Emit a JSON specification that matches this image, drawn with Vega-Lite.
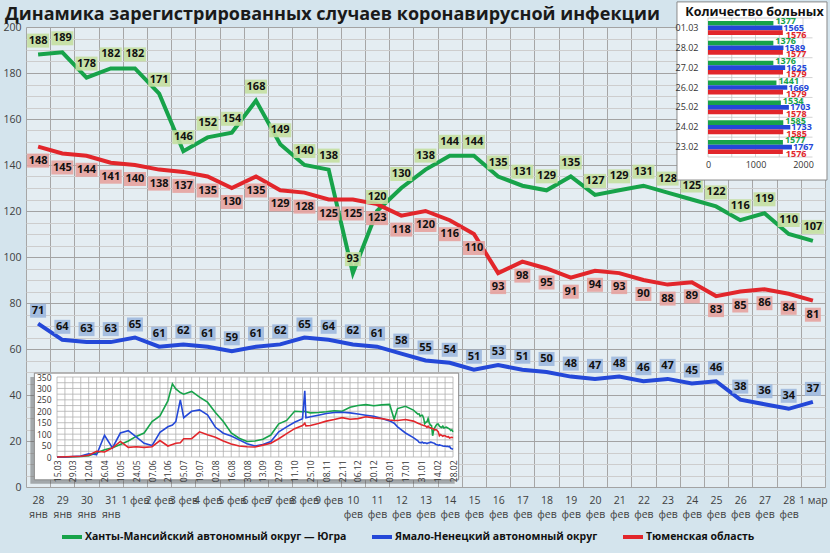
{
  "$schema": "https://vega.github.io/schema/vega-lite/v6.json",
  "width": 799,
  "height": 460,
  "autosize": {"type": "none"},
  "padding": {"left": 26, "top": 27, "right": 5, "bottom": 66},
  "background": "#d4e4ed",
  "title": {
    "text": "Динамика зарегистрированных случаев коронавирусной инфекции",
    "anchor": "start",
    "frame": "group",
    "dx": -21,
    "dy": 29,
    "offset": 6,
    "fontSize": 18,
    "fontWeight": "bold",
    "color": "#1a1a1a"
  },
  "datasets": {
    "main": [
      {"d": "28|янв", "hm": 188, "yn": 71, "tm": 148},
      {"d": "29|янв", "hm": 189, "yn": 64, "tm": 145},
      {"d": "30|янв", "hm": 178, "yn": 63, "tm": 144},
      {"d": "31|янв", "hm": 182, "yn": 63, "tm": 141},
      {"d": "1 фев", "hm": 182, "yn": 65, "tm": 140},
      {"d": "2 фев", "hm": 171, "yn": 61, "tm": 138},
      {"d": "3 фев", "hm": 146, "yn": 62, "tm": 137},
      {"d": "4 фев", "hm": 152, "yn": 61, "tm": 135},
      {"d": "5 фев", "hm": 154, "yn": 59, "tm": 130},
      {"d": "6 фев", "hm": 168, "yn": 61, "tm": 135},
      {"d": "7 фев", "hm": 149, "yn": 62, "tm": 129},
      {"d": "8 фев", "hm": 140, "yn": 65, "tm": 128},
      {"d": "9 фев", "hm": 138, "yn": 64, "tm": 125},
      {"d": "10|фев", "hm": 93, "yn": 62, "tm": 125},
      {"d": "11|фев", "hm": 120, "yn": 61, "tm": 123},
      {"d": "12|фев", "hm": 130, "yn": 58, "tm": 118},
      {"d": "13|фев", "hm": 138, "yn": 55, "tm": 120},
      {"d": "14|фев", "hm": 144, "yn": 54, "tm": 116},
      {"d": "15|фев", "hm": 144, "yn": 51, "tm": 110},
      {"d": "16|фев", "hm": 135, "yn": 53, "tm": 93},
      {"d": "17|фев", "hm": 131, "yn": 51, "tm": 98},
      {"d": "18|фев", "hm": 129, "yn": 50, "tm": 95},
      {"d": "19|фев", "hm": 135, "yn": 48, "tm": 91},
      {"d": "20|фев", "hm": 127, "yn": 47, "tm": 94},
      {"d": "21|фев", "hm": 129, "yn": 48, "tm": 93},
      {"d": "22|фев", "hm": 131, "yn": 46, "tm": 90},
      {"d": "23|фев", "hm": 128, "yn": 47, "tm": 88},
      {"d": "24|фев", "hm": 125, "yn": 45, "tm": 89},
      {"d": "25|фев", "hm": 122, "yn": 46, "tm": 83},
      {"d": "26|фев", "hm": 116, "yn": 38, "tm": 85},
      {"d": "27|фев", "hm": 119, "yn": 36, "tm": 86},
      {"d": "28|фев", "hm": 110, "yn": 34, "tm": 84},
      {"d": "1 мар", "hm": 107, "yn": 37, "tm": 81}
    ],
    "ins": [
      {"t": "2020-03-15", "hm": 0, "yn": 0, "tm": 0},
      {"t": "2020-03-22", "hm": 0, "yn": 0, "tm": 1},
      {"t": "2020-03-29", "hm": 1, "yn": 2, "tm": 2},
      {"t": "2020-04-05", "hm": 2, "yn": 4, "tm": 3},
      {"t": "2020-04-12", "hm": 6, "yn": 14, "tm": 8},
      {"t": "2020-04-19", "hm": 18, "yn": 10, "tm": 25},
      {"t": "2020-04-26", "hm": 32, "yn": 95, "tm": 22},
      {"t": "2020-05-03", "hm": 40, "yn": 40, "tm": 40},
      {"t": "2020-05-10", "hm": 55, "yn": 105, "tm": 68},
      {"t": "2020-05-17", "hm": 70, "yn": 115, "tm": 42},
      {"t": "2020-05-24", "hm": 90, "yn": 88, "tm": 45},
      {"t": "2020-05-31", "hm": 105, "yn": 60, "tm": 42},
      {"t": "2020-06-07", "hm": 155, "yn": 50, "tm": 45},
      {"t": "2020-06-14", "hm": 180, "yn": 108, "tm": 72},
      {"t": "2020-06-21", "hm": 245, "yn": 132, "tm": 48},
      {"t": "2020-06-25", "hm": 320, "yn": 140, "tm": 55},
      {"t": "2020-06-28", "hm": 298, "yn": 155, "tm": 60},
      {"t": "2020-07-02", "hm": 282, "yn": 250, "tm": 62},
      {"t": "2020-07-05", "hm": 275, "yn": 172, "tm": 80},
      {"t": "2020-07-12", "hm": 287, "yn": 200, "tm": 80},
      {"t": "2020-07-19", "hm": 262, "yn": 206, "tm": 110},
      {"t": "2020-07-26", "hm": 240, "yn": 185, "tm": 97},
      {"t": "2020-08-02", "hm": 195, "yn": 130, "tm": 86},
      {"t": "2020-08-09", "hm": 155, "yn": 104, "tm": 70},
      {"t": "2020-08-16", "hm": 105, "yn": 92, "tm": 57},
      {"t": "2020-08-23", "hm": 82, "yn": 75, "tm": 48},
      {"t": "2020-08-30", "hm": 68, "yn": 58, "tm": 45},
      {"t": "2020-09-06", "hm": 70, "yn": 48, "tm": 44},
      {"t": "2020-09-13", "hm": 78, "yn": 55, "tm": 52},
      {"t": "2020-09-20", "hm": 96, "yn": 68, "tm": 60},
      {"t": "2020-09-27", "hm": 145, "yn": 110, "tm": 80},
      {"t": "2020-10-04", "hm": 160, "yn": 132, "tm": 102},
      {"t": "2020-10-11", "hm": 200, "yn": 152, "tm": 124},
      {"t": "2020-10-18", "hm": 198, "yn": 167, "tm": 138},
      {"t": "2020-10-20", "hm": 200, "yn": 290, "tm": 148},
      {"t": "2020-10-21", "hm": 198, "yn": 172, "tm": 136},
      {"t": "2020-10-25", "hm": 193, "yn": 176, "tm": 138},
      {"t": "2020-11-01", "hm": 195, "yn": 183, "tm": 147},
      {"t": "2020-11-08", "hm": 198, "yn": 190, "tm": 157},
      {"t": "2020-11-15", "hm": 202, "yn": 195, "tm": 164},
      {"t": "2020-11-22", "hm": 200, "yn": 196, "tm": 172},
      {"t": "2020-11-29", "hm": 218, "yn": 193, "tm": 165},
      {"t": "2020-12-06", "hm": 225, "yn": 188, "tm": 168},
      {"t": "2020-12-13", "hm": 229, "yn": 183, "tm": 176},
      {"t": "2020-12-20", "hm": 224, "yn": 178, "tm": 171},
      {"t": "2020-12-27", "hm": 228, "yn": 168, "tm": 168},
      {"t": "2021-01-03", "hm": 230, "yn": 158, "tm": 162},
      {"t": "2021-01-07", "hm": 165, "yn": 148, "tm": 160},
      {"t": "2021-01-10", "hm": 212, "yn": 132, "tm": 160},
      {"t": "2021-01-17", "hm": 222, "yn": 105, "tm": 164},
      {"t": "2021-01-24", "hm": 205, "yn": 85, "tm": 157},
      {"t": "2021-01-28", "hm": 188, "yn": 71, "tm": 148},
      {"t": "2021-01-29", "hm": 189, "yn": 64, "tm": 145},
      {"t": "2021-01-30", "hm": 178, "yn": 63, "tm": 144},
      {"t": "2021-01-31", "hm": 182, "yn": 63, "tm": 141},
      {"t": "2021-02-01", "hm": 182, "yn": 65, "tm": 140},
      {"t": "2021-02-02", "hm": 171, "yn": 61, "tm": 138},
      {"t": "2021-02-03", "hm": 146, "yn": 62, "tm": 137},
      {"t": "2021-02-04", "hm": 152, "yn": 61, "tm": 135},
      {"t": "2021-02-05", "hm": 154, "yn": 59, "tm": 130},
      {"t": "2021-02-06", "hm": 168, "yn": 61, "tm": 135},
      {"t": "2021-02-07", "hm": 149, "yn": 62, "tm": 129},
      {"t": "2021-02-08", "hm": 140, "yn": 65, "tm": 128},
      {"t": "2021-02-09", "hm": 138, "yn": 64, "tm": 125},
      {"t": "2021-02-10", "hm": 93, "yn": 62, "tm": 125},
      {"t": "2021-02-11", "hm": 120, "yn": 61, "tm": 123},
      {"t": "2021-02-12", "hm": 130, "yn": 58, "tm": 118},
      {"t": "2021-02-13", "hm": 138, "yn": 55, "tm": 120},
      {"t": "2021-02-14", "hm": 144, "yn": 54, "tm": 116},
      {"t": "2021-02-15", "hm": 144, "yn": 51, "tm": 110},
      {"t": "2021-02-16", "hm": 135, "yn": 53, "tm": 93},
      {"t": "2021-02-17", "hm": 131, "yn": 51, "tm": 98},
      {"t": "2021-02-18", "hm": 129, "yn": 50, "tm": 95},
      {"t": "2021-02-19", "hm": 135, "yn": 48, "tm": 91},
      {"t": "2021-02-20", "hm": 127, "yn": 47, "tm": 94},
      {"t": "2021-02-21", "hm": 129, "yn": 48, "tm": 93},
      {"t": "2021-02-22", "hm": 131, "yn": 46, "tm": 90},
      {"t": "2021-02-23", "hm": 128, "yn": 47, "tm": 88},
      {"t": "2021-02-24", "hm": 125, "yn": 45, "tm": 89},
      {"t": "2021-02-25", "hm": 122, "yn": 46, "tm": 83},
      {"t": "2021-02-26", "hm": 116, "yn": 38, "tm": 85},
      {"t": "2021-02-27", "hm": 119, "yn": 36, "tm": 86},
      {"t": "2021-02-28", "hm": 110, "yn": 34, "tm": 84}
    ],
    "gridT": [
      {"t": "2020-03-15"}, {"t": "2020-03-22"}, {"t": "2020-03-29"}, {"t": "2020-04-05"},
      {"t": "2020-04-12"}, {"t": "2020-04-19"}, {"t": "2020-04-26"}, {"t": "2020-05-03"},
      {"t": "2020-05-10"}, {"t": "2020-05-17"}, {"t": "2020-05-24"}, {"t": "2020-05-31"},
      {"t": "2020-06-07"}, {"t": "2020-06-14"}, {"t": "2020-06-21"}, {"t": "2020-06-28"},
      {"t": "2020-07-05"}, {"t": "2020-07-12"}, {"t": "2020-07-19"}, {"t": "2020-07-26"},
      {"t": "2020-08-02"}, {"t": "2020-08-09"}, {"t": "2020-08-16"}, {"t": "2020-08-23"},
      {"t": "2020-08-30"}, {"t": "2020-09-06"}, {"t": "2020-09-13"}, {"t": "2020-09-20"},
      {"t": "2020-09-27"}, {"t": "2020-10-04"}, {"t": "2020-10-11"}, {"t": "2020-10-18"},
      {"t": "2020-10-25"}, {"t": "2020-11-01"}, {"t": "2020-11-08"}, {"t": "2020-11-15"},
      {"t": "2020-11-22"}, {"t": "2020-11-29"}, {"t": "2020-12-06"}, {"t": "2020-12-13"},
      {"t": "2020-12-20"}, {"t": "2020-12-27"}, {"t": "2021-01-03"}, {"t": "2021-01-10"},
      {"t": "2021-01-17"}, {"t": "2021-01-24"}, {"t": "2021-01-31"}, {"t": "2021-02-07"},
      {"t": "2021-02-14"}, {"t": "2021-02-21"}, {"t": "2021-02-28"}
    ],
    "gridV": [
      {"g": 0}, {"g": 25}, {"g": 50}, {"g": 75}, {"g": 100}, {"g": 125}, {"g": 150}, {"g": 175},
      {"g": 200}, {"g": 225}, {"g": 250}, {"g": 275}, {"g": 300}, {"g": 325}, {"g": 350}
    ],
    "bars": [
      {"d": "01.03", "hm": 1377, "yn": 1565, "tm": 1576},
      {"d": "28.02", "hm": 1376, "yn": 1589, "tm": 1577},
      {"d": "27.02", "hm": 1376, "yn": 1625, "tm": 1579},
      {"d": "26.02", "hm": 1441, "yn": 1669, "tm": 1579},
      {"d": "25.02", "hm": 1534, "yn": 1703, "tm": 1578},
      {"d": "24.02", "hm": 1585, "yn": 1733, "tm": 1585},
      {"d": "23.02", "hm": 1577, "yn": 1767, "tm": 1576}
    ],
    "gridB": [{"g": 0}, {"g": 500}, {"g": 1000}, {"g": 1500}, {"g": 2000}],
    "sep": [{"r": 0}, {"r": 1}, {"r": 2}, {"r": 3}, {"r": 4}, {"r": 5}, {"r": 6}, {"r": 7}]
  },
  "layer": [
    {
      "data": {"name": "main"},
      "transform": [{"fold": ["hm", "yn", "tm"], "as": ["key", "v"]}],
      "encoding": {
        "x": {
          "field": "d",
          "type": "nominal",
          "sort": null,
          "scale": {"type": "band", "paddingInner": 0, "paddingOuter": 0},
          "axis": {
            "orient": "bottom",
            "title": null,
            "tickBand": "extent",
            "grid": true,
            "gridColor": "#a6a6a6",
            "domain": false,
            "ticks": false,
            "labelAngle": 0,
            "labelExpr": "split(datum.label, '|')",
            "labelPadding": 8,
            "labelFontSize": 10.5,
            "labelLineHeight": 14,
            "labelColor": "#404040",
            "labelOverlap": false,
            "labelBound": false
          }
        },
        "y": {
          "field": "v",
          "type": "quantitative",
          "scale": {"domain": [0, 200], "nice": false},
          "axis": {
            "orient": "left",
            "title": null,
            "values": [0, 5, 10, 15, 20, 25, 30, 35, 40, 45, 50, 55, 60, 65, 70, 75, 80, 85, 90, 95, 100, 105, 110, 115, 120, 125, 130, 135, 140, 145, 150, 155, 160, 165, 170, 175, 180, 185, 190, 195, 200],
            "labelExpr": "datum.value % 20 === 0 ? datum.label : ''",
            "gridColor": {"condition": {"test": "datum.value % 20 === 0", "value": "#a3a3a3"}, "value": "#cdcdcd"},
            "domain": false,
            "ticks": false,
            "labelPadding": 5,
            "labelFontSize": 10.5,
            "labelColor": "#404040"
          }
        }
      },
      "layer": [
        {
          "mark": {"type": "line", "strokeWidth": 4},
          "encoding": {
            "color": {
              "field": "key",
              "type": "nominal",
              "scale": {"domain": ["hm", "yn", "tm"], "range": ["#17a34a", "#2448d8", "#e2262b"]},
              "legend": {
                "orient": "none",
                "legendX": 34,
                "legendY": 498,
                "direction": "horizontal",
                "columns": 3,
                "title": null,
                "symbolType": "stroke",
                "symbolSize": 400,
                "symbolStrokeWidth": 4,
                "labelFontSize": 10.5,
                "labelFontWeight": "bold",
                "labelColor": "#111111",
                "labelOffset": 1,
                "columnPadding": 17,
                "labelLimit": 400,
                "labelExpr": "datum.label == 'hm' ? 'Ханты-Мансийский автономный округ — Югра' : datum.label == 'yn' ? 'Ямало-Ненецкий автономный округ' : 'Тюменская область'"
              }
            }
          }
        },
        {
          "transform": [{"filter": "datum.key == 'hm'"}],
          "layer": [
            {
              "mark": {"type": "point", "filled": true, "opacity": 0.9, "strokeWidth": 0, "yOffset": -14},
              "encoding": {
                "shape": {"condition": {"test": "datum.v >= 100", "value": "M-1.57,-1H1.57V1H-1.57Z"}, "value": "M-1.14,-1H1.14V1H-1.14Z"},
                "size": {"value": 196},
                "fill": {"field": "key", "type": "nominal", "scale": {"domain": ["hm", "yn", "tm"], "range": ["#c4dfa1", "#9db8de", "#e5a29f"]}, "legend": null}
              }
            },
            {
              "mark": {"type": "text", "yOffset": -14, "fontWeight": "bold", "fontSize": 11, "color": "#111111", "baseline": "middle"},
              "encoding": {"text": {"field": "v", "type": "quantitative", "format": "d"}}
            }
          ]
        },
        {
          "transform": [{"filter": "datum.key == 'tm'"}],
          "layer": [
            {
              "mark": {"type": "point", "filled": true, "opacity": 0.9, "strokeWidth": 0, "yOffset": 14},
              "encoding": {
                "shape": {"condition": {"test": "datum.v >= 100", "value": "M-1.57,-1H1.57V1H-1.57Z"}, "value": "M-1.14,-1H1.14V1H-1.14Z"},
                "size": {"value": 196},
                "fill": {"field": "key", "type": "nominal", "scale": {"domain": ["hm", "yn", "tm"], "range": ["#c4dfa1", "#9db8de", "#e5a29f"]}, "legend": null}
              }
            },
            {
              "mark": {"type": "text", "yOffset": 14, "fontWeight": "bold", "fontSize": 11, "color": "#111111", "baseline": "middle"},
              "encoding": {"text": {"field": "v", "type": "quantitative", "format": "d"}}
            }
          ]
        },
        {
          "transform": [{"filter": "datum.key == 'yn'"}],
          "layer": [
            {
              "mark": {"type": "point", "filled": true, "opacity": 0.9, "strokeWidth": 0, "yOffset": -13},
              "encoding": {
                "shape": {"condition": {"test": "datum.v >= 100", "value": "M-1.57,-1H1.57V1H-1.57Z"}, "value": "M-1.14,-1H1.14V1H-1.14Z"},
                "size": {"value": 196},
                "fill": {"field": "key", "type": "nominal", "scale": {"domain": ["hm", "yn", "tm"], "range": ["#c4dfa1", "#9db8de", "#e5a29f"]}, "legend": null}
              }
            },
            {
              "mark": {"type": "text", "yOffset": -13, "fontWeight": "bold", "fontSize": 11, "color": "#111111", "baseline": "middle"},
              "encoding": {"text": {"field": "v", "type": "quantitative", "format": "d"}}
            }
          ]
        }
      ]
    },
    {
      "layer": [
        {
          "data": {"values": [{}]},
          "mark": {"type": "rect", "fill": "#555555", "opacity": 0.45, "xOffset": -4, "x2Offset": -4, "yOffset": 4, "y2Offset": 4},
          "encoding": {
            "x": {"datum": {"year": 2020, "month": 2, "date": 24, "utc": true}, "type": "temporal", "scale": {"type": "utc", "domain": [{"year": 2020, "month": 3, "date": 15, "utc": true}, {"year": 2021, "month": 2, "date": 28, "utc": true}], "range": [31, 427], "nice": false}, "axis": null},
            "x2": {"datum": {"year": 2021, "month": 3, "date": 5, "utc": true}},
            "y": {"datum": -100, "type": "quantitative", "scale": {"domain": [0, 350], "range": [430, 350], "nice": false, "zero": false}, "axis": null},
            "y2": {"datum": 367}
          }
        },
        {
          "data": {"values": [{}]},
          "mark": {"type": "rect", "fill": "white", "stroke": "#8a8a8a", "strokeWidth": 1},
          "encoding": {
            "x": {"datum": {"year": 2020, "month": 2, "date": 24, "utc": true}, "type": "temporal", "scale": {"type": "utc", "domain": [{"year": 2020, "month": 3, "date": 15, "utc": true}, {"year": 2021, "month": 2, "date": 28, "utc": true}], "range": [31, 427], "nice": false}, "axis": null},
            "x2": {"datum": {"year": 2021, "month": 3, "date": 5, "utc": true}},
            "y": {"datum": -100, "type": "quantitative", "scale": {"domain": [0, 350], "range": [430, 350], "nice": false, "zero": false}, "axis": null},
            "y2": {"datum": 367}
          }
        },
        {
          "data": {"name": "gridT"},
          "mark": {"type": "rule", "color": "#b0b0b0", "strokeWidth": 0.8},
          "encoding": {
            "x": {"field": "t", "type": "temporal", "scale": {"type": "utc", "domain": [{"year": 2020, "month": 3, "date": 15, "utc": true}, {"year": 2021, "month": 2, "date": 28, "utc": true}], "range": [31, 427], "nice": false}, "axis": null},
            "y": {"datum": 0, "type": "quantitative", "scale": {"domain": [0, 350], "range": [430, 350], "nice": false, "zero": false}, "axis": null},
            "y2": {"datum": 350}
          }
        },
        {
          "data": {"name": "gridV"},
          "mark": {"type": "rule", "color": "#b0b0b0", "strokeWidth": 0.8},
          "encoding": {
            "y": {"field": "g", "type": "quantitative", "scale": {"domain": [0, 350], "range": [430, 350], "nice": false, "zero": false}, "axis": null},
            "x": {"datum": {"year": 2020, "month": 3, "date": 15, "utc": true}, "type": "temporal", "scale": {"type": "utc", "domain": [{"year": 2020, "month": 3, "date": 15, "utc": true}, {"year": 2021, "month": 2, "date": 28, "utc": true}], "range": [31, 427], "nice": false}, "axis": null},
            "x2": {"datum": {"year": 2021, "month": 2, "date": 28, "utc": true}}
          }
        },
        {
          "data": {"name": "ins"},
          "transform": [{"fold": ["hm", "yn", "tm"], "as": ["key", "v"]}],
          "mark": {"type": "line", "strokeWidth": 1.6},
          "encoding": {
            "x": {
              "field": "t",
              "type": "temporal",
              "scale": {"type": "utc", "domain": [{"year": 2020, "month": 3, "date": 15, "utc": true}, {"year": 2021, "month": 2, "date": 28, "utc": true}], "range": [31, 427], "nice": false},
              "axis": {
                "orient": "bottom",
                "offset": -30,
                "zindex": 2,
                "title": null,
                "values": [
                  {"year": 2020, "month": 3, "date": 15, "utc": true}, {"year": 2020, "month": 3, "date": 29, "utc": true},
                  {"year": 2020, "month": 4, "date": 12, "utc": true}, {"year": 2020, "month": 4, "date": 26, "utc": true},
                  {"year": 2020, "month": 5, "date": 10, "utc": true}, {"year": 2020, "month": 5, "date": 24, "utc": true},
                  {"year": 2020, "month": 6, "date": 7, "utc": true}, {"year": 2020, "month": 6, "date": 21, "utc": true},
                  {"year": 2020, "month": 7, "date": 5, "utc": true}, {"year": 2020, "month": 7, "date": 19, "utc": true},
                  {"year": 2020, "month": 8, "date": 2, "utc": true}, {"year": 2020, "month": 8, "date": 16, "utc": true},
                  {"year": 2020, "month": 8, "date": 30, "utc": true}, {"year": 2020, "month": 9, "date": 13, "utc": true},
                  {"year": 2020, "month": 9, "date": 27, "utc": true}, {"year": 2020, "month": 10, "date": 11, "utc": true},
                  {"year": 2020, "month": 10, "date": 25, "utc": true}, {"year": 2020, "month": 11, "date": 8, "utc": true},
                  {"year": 2020, "month": 11, "date": 22, "utc": true}, {"year": 2020, "month": 12, "date": 6, "utc": true},
                  {"year": 2020, "month": 12, "date": 20, "utc": true}, {"year": 2021, "month": 1, "date": 3, "utc": true},
                  {"year": 2021, "month": 1, "date": 17, "utc": true}, {"year": 2021, "month": 1, "date": 31, "utc": true},
                  {"year": 2021, "month": 2, "date": 14, "utc": true}, {"year": 2021, "month": 2, "date": 28, "utc": true}
                ],
                "format": "%d.%m",
                "labelAngle": 270,
                "labelFontSize": 8.5,
                "labelColor": "#333333",
                "labelPadding": 3,
                "domain": false,
                "ticks": false,
                "grid": false,
                "labelOverlap": false,
                "labelFlush": false
              }
            },
            "y": {
              "field": "v",
              "type": "quantitative",
              "scale": {"domain": [0, 350], "range": [430, 350], "nice": false, "zero": false},
              "axis": {
                "orient": "left",
                "offset": -31,
                "zindex": 2,
                "title": null,
                "values": [0, 50, 100, 150, 200, 250, 300, 350],
                "labelFontSize": 8.5,
                "labelColor": "#333333",
                "labelPadding": 6,
                "domain": false,
                "ticks": false,
                "grid": false
              }
            },
            "color": {"field": "key", "type": "nominal", "scale": {"domain": ["hm", "yn", "tm"], "range": ["#17a34a", "#2448d8", "#e2262b"]}, "legend": null}
          }
        }
      ],
      "resolve": {"scale": {"x": "independent", "y": "independent"}}
    },
    {
      "layer": [
        {
          "layer": [
            {
              "data": {"values": [{}]},
              "mark": {"type": "rect", "fill": "white", "stroke": "#8a8a8a", "strokeWidth": 1},
              "encoding": {
                "x": {"datum": -653, "type": "quantitative", "scale": {"domain": [0, 2000], "range": [682, 777], "nice": false}, "axis": null},
                "x2": {"datum": 2505},
                "y": {"datum": -0.81, "type": "quantitative", "scale": {"domain": [0, 7], "range": [-9, 130], "nice": false, "zero": false}, "axis": null},
                "y2": {"datum": 8.16}
              }
            },
            {
              "data": {"name": "gridB"},
              "mark": {"type": "rule", "color": "#c6c6c6", "strokeWidth": 0.8},
              "encoding": {
                "x": {"field": "g", "type": "quantitative", "scale": {"domain": [0, 2000], "range": [682, 777], "nice": false}, "axis": null},
                "y": {"datum": 0, "type": "quantitative", "scale": {"domain": [0, 7], "range": [-9, 130], "nice": false, "zero": false}, "axis": null},
                "y2": {"datum": 7}
              }
            },
            {
              "data": {"name": "sep"},
              "mark": {"type": "rule", "color": "#c6c6c6", "strokeWidth": 0.8},
              "encoding": {
                "y": {"field": "r", "type": "quantitative", "scale": {"domain": [0, 7], "range": [-9, 130], "nice": false, "zero": false}, "axis": null},
                "x": {"datum": 0, "type": "quantitative", "scale": {"domain": [0, 2000], "range": [682, 777], "nice": false}, "axis": null},
                "x2": {"datum": 2200}
              }
            },
            {
              "data": {"values": [{}]},
              "mark": {"type": "text", "text": "Количество больных", "fontWeight": "bold", "fontSize": 12.5, "color": "#111111", "baseline": "middle"},
              "encoding": {
                "x": {"datum": 979, "type": "quantitative", "scale": {"domain": [0, 2000], "range": [682, 777], "nice": false}, "axis": null},
                "y": {"datum": -0.32, "type": "quantitative", "scale": {"domain": [0, 7], "range": [-9, 130], "nice": false, "zero": false}, "axis": null}
              }
            }
          ]
        },
        {
          "data": {"name": "bars"},
          "transform": [{"fold": ["hm", "yn", "tm"], "as": ["key", "v"]}],
          "encoding": {
            "y": {
              "field": "d",
              "type": "nominal",
              "scale": {"domain": ["01.03", "28.02", "27.02", "26.02", "25.02", "24.02", "23.02"], "range": [-9, 130], "paddingInner": 0.3, "paddingOuter": 0.15},
              "axis": {"orient": "left", "offset": -682, "zindex": 2, "title": null, "domain": false, "ticks": false, "grid": false, "labelFontSize": 9, "labelColor": "#333333", "labelPadding": 10}
            },
            "yOffset": {"field": "key", "type": "nominal", "scale": {"domain": ["hm", "yn", "tm"], "paddingInner": 0, "paddingOuter": 0}},
            "x": {
              "field": "v",
              "type": "quantitative",
              "scale": {"domain": [0, 2000], "range": [682, 777], "nice": false},
              "axis": {"orient": "bottom", "offset": -330, "zindex": 2, "title": null, "values": [0, 1000, 2000], "format": "d", "domain": false, "ticks": false, "grid": false, "labelFontSize": 9, "labelColor": "#333333", "labelPadding": 3, "labelFlush": false}
            },
            "color": {"field": "key", "type": "nominal", "scale": {"domain": ["hm", "yn", "tm"], "range": ["#17a34a", "#2448d8", "#e2262b"]}, "legend": null}
          },
          "layer": [
            {"mark": {"type": "bar"}},
            {
              "transform": [{"filter": "datum.key == 'hm'"}],
              "mark": {"type": "text", "align": "left", "dx": 2, "dy": -2, "fontWeight": "bold", "fontSize": 9, "baseline": "middle"},
              "encoding": {"text": {"field": "v", "type": "quantitative", "format": "d"}}
            },
            {
              "transform": [{"filter": "datum.key == 'yn'"}],
              "mark": {"type": "text", "align": "left", "dx": 1, "fontWeight": "bold", "fontSize": 9, "baseline": "middle"},
              "encoding": {"text": {"field": "v", "type": "quantitative", "format": "d"}}
            },
            {
              "transform": [{"filter": "datum.key == 'tm'"}],
              "mark": {"type": "text", "align": "left", "dx": 3, "dy": 2, "fontWeight": "bold", "fontSize": 9, "baseline": "middle"},
              "encoding": {"text": {"field": "v", "type": "quantitative", "format": "d"}}
            }
          ]
        }
      ],
      "resolve": {"scale": {"x": "independent", "y": "independent"}}
    }
  ],
  "resolve": {"scale": {"x": "independent", "y": "independent"}},
  "config": {
    "font": "Open Sans",
    "view": {"stroke": null, "fill": "#e4edf2"}
  }
}
